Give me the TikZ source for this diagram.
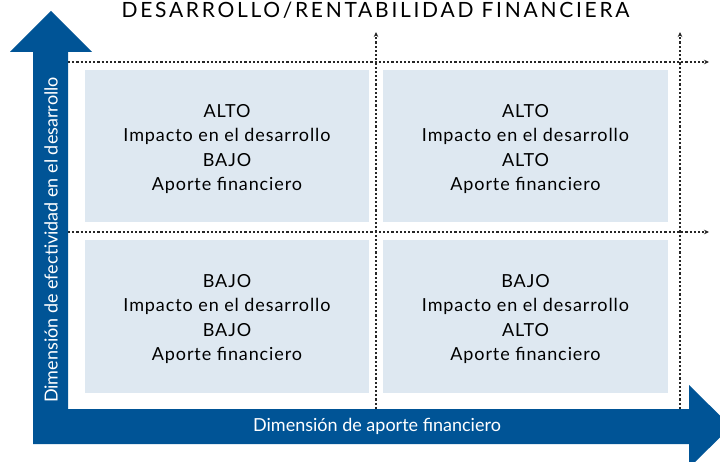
\documentclass[tikz,border=0pt]{standalone}
\usepackage{fontspec}
\setmainfont{Lato}
\usetikzlibrary{arrows.meta}
\definecolor{axisblue}{RGB}{0,84,150}
\definecolor{boxfill}{RGB}{222,232,241}
\tikzset{
  quad/.style={fill=boxfill, draw=none},
  quadtext/.style={align=center, font=\fontsize{18}{24.3}\selectfont\addfontfeature{LetterSpace=5}, text=black},
  guide/.style={line width=1.3pt, dash pattern=on 2.2pt off 2pt, draw=black!85},
  guidearrow/.style={guide, -{Stealth[length=5pt,width=4.5pt]}},
  axislabel/.style={text=white, font=\fontsize{18}{20}\selectfont},
}
\begin{document}
\begin{tikzpicture}[x=1pt,y=-1pt]
\useasboundingbox (0,0) rectangle (720,462);
\begin{scope}
\clip (0,0) rectangle (720,462);
% quadrant boxes
\fill[quad] (85,70) rectangle (369,222);
\fill[quad] (383,70) rectangle (668,222);
\fill[quad] (85,240) rectangle (369,393);
\fill[quad] (383,240) rectangle (668,393);
% guide coordinates
\coordinate (hl1s) at (68,62);
\coordinate (hl1e) at (709,62);
\coordinate (hl2s) at (68,232);
\coordinate (hl2e) at (709,232);
\coordinate (vl1s) at (376,409);
\coordinate (vl1e) at (376,32);
\coordinate (vl2s) at (680,409);
\coordinate (vl2e) at (680,32);
\draw[guidearrow] (hl1s) -- (hl1e);
\draw[guidearrow] (hl2s) -- (hl2e);
\draw[guidearrow] (vl1s) -- (vl1e);
\draw[guidearrow] (vl2s) -- (vl2e);
% L-shaped axes arrow
\fill[axisblue] (51,11) -- (92,52) -- (68,52) -- (68,409) -- (689,409) -- (689,385)
  -- (731,426.5) -- (689,468) -- (689,444) -- (33,444) -- (33,52) -- (10,52) -- cycle;
\end{scope}
% texts
\node[quadtext] (q1) at (227,149) {ALTO\\Impacto en el desarrollo\\BAJO\\Aporte financiero};
\node[quadtext] (q2) at (525.5,149) {ALTO\\Impacto en el desarrollo\\ALTO\\Aporte financiero};
\node[quadtext] (q3) at (227,319) {BAJO\\Impacto en el desarrollo\\BAJO\\Aporte financiero};
\node[quadtext] (q4) at (525.5,319) {BAJO\\Impacto en el desarrollo\\ALTO\\Aporte financiero};
\node[font=\fontsize{21}{24}\selectfont, text=black] (title) at (375.5,10.5) {\addfontfeature{LetterSpace=13}DESARROLLO/RENTABILIDAD FINANCIERA};
\node[axislabel] (xlab) at (377,426.5) {Dimensión de aporte financiero};
\node[axislabel, rotate=90] (ylab) at (51,240) {Dimensión de efectividad en el desarrollo};
\end{tikzpicture}
\end{document}
